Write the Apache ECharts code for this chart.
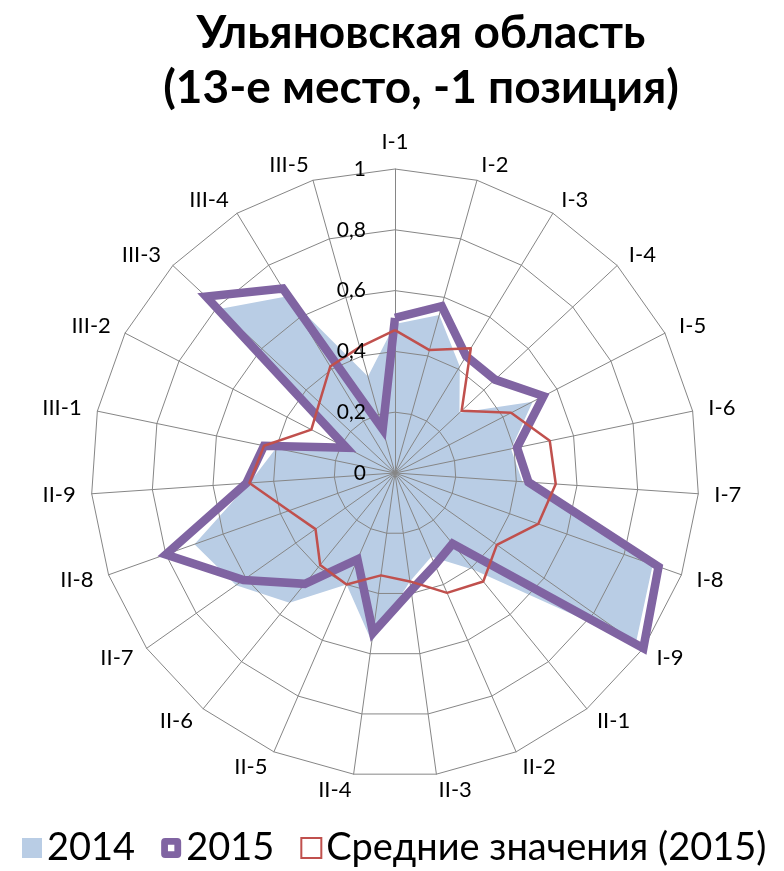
<!DOCTYPE html>
<html>
<head>
<meta charset="utf-8">
<script src="https://cdn.jsdelivr.net/npm/echarts@6/dist/echarts.min.js"></script>
<style>
  html, body { margin: 0; background: #fff; }
  #chart { width: 784px; height: 871px; }
</style>
</head>
<body>
<div id="chart"></div>
<script>
const categories = [
  'I-1', 'I-2', 'I-3', 'I-4', 'I-5', 'I-6', 'I-7', 'I-8', 'I-9',
  'II-1', 'II-2', 'II-3', 'II-4', 'II-5', 'II-6', 'II-7', 'II-8', 'II-9',
  'III-1', 'III-2', 'III-3', 'III-4', 'III-5'
]
const values2014 = [
  0.49, 0.54, 0.41, 0.29, 0.51, 0.39, 0.42, 0.90, 0.97,
  0.41, 0.30, 0.36, 0.56, 0.40, 0.55, 0.64, 0.70, 0.48,
  0.40, 0.17, 0.79, 0.68, 0.33
]
const values2015 = [
  0.51, 0.57, 0.45, 0.45, 0.55, 0.41, 0.44, 0.92, 1.00,
  0.30, 0.33, 0.39, 0.53, 0.31, 0.47, 0.61, 0.80, 0.49,
  0.44, 0.18, 0.85, 0.71, 0.15
]
const valuesAvg = [
  0.47, 0.42, 0.48, 0.30, 0.43, 0.52, 0.53, 0.50, 0.41,
  0.46, 0.43, 0.36, 0.34, 0.40, 0.39, 0.32, 0.37, 0.48,
  0.44, 0.31, 0.34, 0.41, 0.43
]
const ringTicks = [0, 0.2, 0.4, 0.6, 0.8, 1]
const seriesNames = ['2014', '2015', 'Средние значения (2015)']

const FONT = 'Lato'
const CENTER = [395, 473]
const RADIUS = 304

// echarts lays radar axes out counter-clockwise; the source chart goes clockwise from the top
const order = categories.map((_, i) => (categories.length - i) % categories.length)
const pick = arr => order.map(i => arr[i])

const chart = echarts.init(document.getElementById('chart'), null, { renderer: 'canvas' })

chart.setOption({
  backgroundColor: '#fff',
  animation: false,
  title: {
    text: 'Ульяновская область\n(13-е место, -1 позиция)',
    left: 416,
    top: 1,
    textAlign: 'center',
    textStyle: { fontFamily: FONT, fontWeight: 'bold', fontSize: 46, lineHeight: 55, color: '#000' },
  },
  legend: {
    left: 17,
    top: 824,
    itemWidth: 20,
    itemHeight: 20,
    itemGap: 26,
    textStyle: { fontFamily: FONT, fontSize: 38, color: '#000' },
    data: [
      { name: seriesNames[0], icon: 'rect', itemStyle: { color: '#b9cde5' } },
      { name: seriesNames[1], icon: 'path://M2,0H8Q10,0 10,2V8Q10,10 8,10H2Q0,10 0,8V2Q0,0 2,0Z M3.4,3.4V6.6H6.6V3.4Z', itemStyle: { color: '#8064a2' } },
      { name: seriesNames[2], icon: 'rect', itemStyle: { color: '#fff', borderColor: '#c0504d', borderWidth: 2 } },
    ],
  },
  radar: {
    center: CENTER,
    radius: RADIUS,
    startAngle: 90,
    shape: 'polygon',
    splitNumber: ringTicks.length - 1,
    z: 2,
    nameGap: 16,
    axisName: { color: '#000', fontFamily: FONT, fontSize: 22 },
    axisLine: { lineStyle: { color: '#868686', width: 1 } },
    splitLine: { lineStyle: { color: '#868686', width: 1 } },
    splitArea: { show: false },
    axisTick: { show: false },
    axisLabel: { show: false },
    indicator: pick(categories).map(name => ({ name, min: ringTicks[0], max: ringTicks[ringTicks.length - 1] })),
  },
  // tick labels along the I-1 spoke
  grid: { left: CENTER[0], top: CENTER[1] - RADIUS, width: 10, height: RADIUS, z: 5 },
  xAxis: { type: 'value', show: false },
  yAxis: {
    type: 'value',
    z: 5,
    min: ringTicks[0],
    max: ringTicks[ringTicks.length - 1],
    interval: ringTicks[1] - ringTicks[0],
    axisLine: { show: false },
    axisTick: { show: false },
    splitLine: { show: false },
    axisLabel: {
      margin: 29,
      padding: [6, 0, 0, 0],
      color: '#000',
      fontFamily: FONT,
      fontSize: 21,
      formatter: v => String(v).replace('.', ','),
    },
  },
  series: [
    {
      type: 'radar', name: seriesNames[0], z: 1, symbol: 'none',
      lineStyle: { width: 0, opacity: 0 },
      areaStyle: { color: '#b9cde5', opacity: 1 },
      itemStyle: { color: '#b9cde5' },
      data: [{ name: seriesNames[0], value: pick(values2014) }],
    },
    {
      type: 'radar', name: seriesNames[1], z: 3, symbol: 'none',
      lineStyle: { color: '#8064a2', width: 8.5, join: 'miter', miterLimit: 10 },
      itemStyle: { color: '#8064a2' },
      data: [{ name: seriesNames[1], value: pick(values2015) }],
    },
    {
      type: 'radar', name: seriesNames[2], z: 4, symbol: 'none',
      lineStyle: { color: '#c0504d', width: 2.5 },
      itemStyle: { color: '#c0504d' },
      data: [{ name: seriesNames[2], value: pick(valuesAvg) }],
    },
  ],
})
</script>
</body>
</html>
